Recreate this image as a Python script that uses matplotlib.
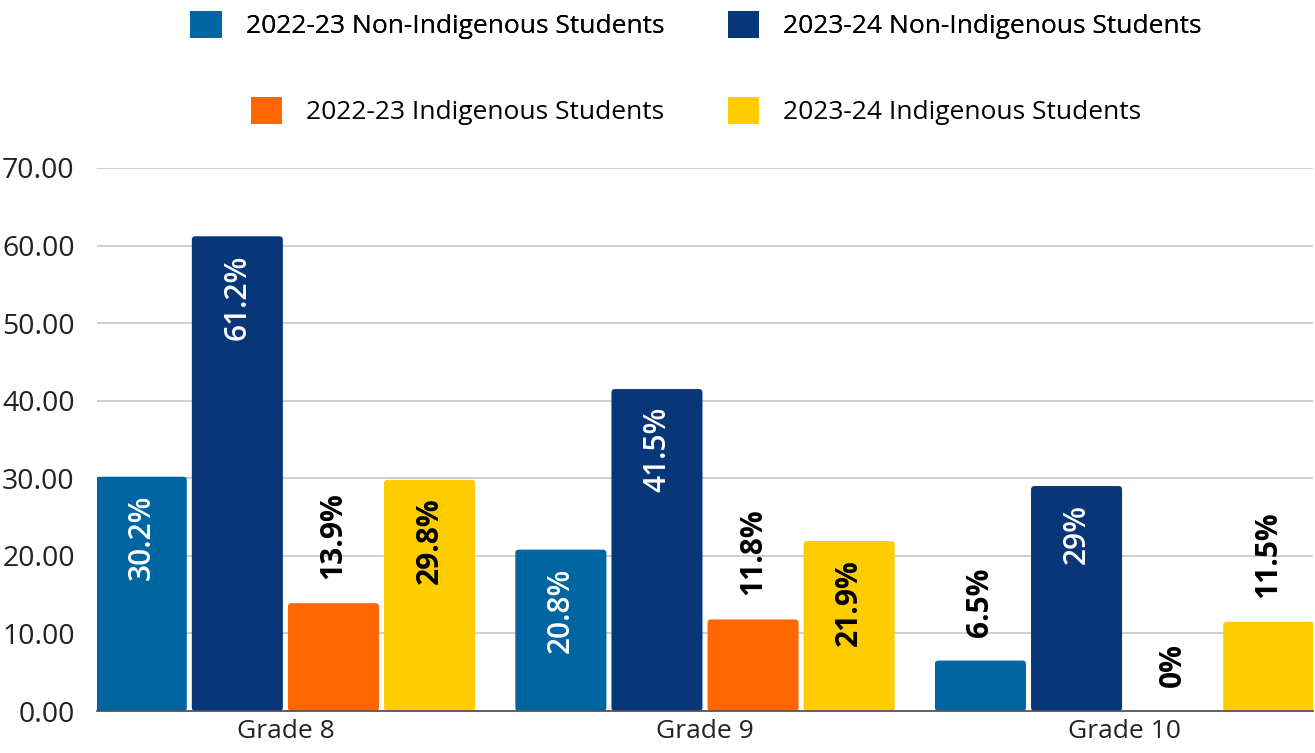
import matplotlib
matplotlib.use("Agg")
import matplotlib.pyplot as plt
from matplotlib.patches import FancyBboxPatch, Patch
import numpy as np

plt.rcParams['font.family'] = ['Open Sans', 'DejaVu Sans']

categories = ["Grade 8", "Grade 9", "Grade 10"]
series_names = ["2022-23 Non-Indigenous Students", "2023-24 Non-Indigenous Students",
                "2022-23 Indigenous Students", "2023-24 Indigenous Students"]
non_indig_2223 = [30.2, 20.8, 6.5]
non_indig_2324 = [61.2, 41.5, 29.0]
indig_2223 = [13.9, 11.8, 0.0]
indig_2324 = [29.8, 21.9, 11.5]
labels_nonindig_2223 = ["30.2%", "20.8%", "6.5%"]
labels_nonindig_2324 = ["61.2%", "41.5%", "29%"]
labels_indig_2223 = ["13.9%", "11.8%", "0%"]
labels_indig_2324 = ["29.8%", "21.9%", "11.5%"]
y_ticks = [0, 10, 20, 30, 40, 50, 60, 70]

colors = ["#0066A1", "#073778", "#FF6600", "#FFCC00"]
label_colors = ["white", "white", "black", "black"]
label_weights = ["semibold", "semibold", "bold", "bold"]

series = [non_indig_2223, non_indig_2324, indig_2223, indig_2324]
series_labels = [labels_nonindig_2223, labels_nonindig_2324, labels_indig_2223, labels_indig_2324]

W, H = 1315, 753
fig = plt.figure(figsize=(W / 100, H / 100), dpi=100)
ax = fig.add_axes([97 / W, (H - 711) / H, (1313 - 97) / W, (711 - 168) / H])

x = np.arange(len(categories))
step = 0.229
bw = 0.217
ax.set_xlim(-0.449, 2.449)
ax.set_ylim(0, 70)

px_x = (1313 - 97) / (2.449 + 0.449)   # pixels per x unit
px_y = (711 - 168) / 70.0               # pixels per y unit
r_px = 3.5

for i, (vals, labs) in enumerate(zip(series, series_labels)):
    xs = x + (i - 1.5) * step
    bars = ax.bar(xs, vals, width=bw, color=colors[i], label=series_names[i], zorder=3)
    for b, v, lab in zip(bars, vals, labs):
        b.set_visible(False)
        if v > 0:
            rs = r_px / px_x
            fp = FancyBboxPatch((b.get_x(), 0), b.get_width(), v,
                                boxstyle=f"round,pad=0,rounding_size={rs}",
                                mutation_aspect=px_x / px_y,
                                facecolor=colors[i], edgecolor='none', zorder=3)
            ax.add_patch(fp)
        cx = b.get_x() + b.get_width() / 2
        if v >= 20:
            ax.annotate(lab, (cx, v), xytext=(0, -18), textcoords='offset pixels',
                        rotation=90, ha='center', va='top', fontsize=21.5,
                        color=label_colors[i], fontweight=label_weights[i], zorder=4)
        else:
            ax.annotate(lab, (cx, v), xytext=(0, 24), textcoords='offset pixels',
                        rotation=90, ha='center', va='bottom', fontsize=21.5,
                        color='black', fontweight='bold', zorder=4)

ax.set_yticks(y_ticks)
ax.set_yticklabels([f"{t:.2f}" for t in y_ticks])
ax.set_xticks(x)
ax.set_xticklabels(categories)
ax.tick_params(axis='both', length=0, colors='#222222')
ax.tick_params(axis='y', pad=16, labelsize=20.5)
ax.tick_params(axis='x', pad=6, labelsize=19)
ax.grid(axis='y', color='#cccccc', linewidth=1.3, zorder=0)
for s in ['top', 'right', 'left']:
    ax.spines[s].set_visible(False)
ax.spines['bottom'].set_color('#555555')
ax.spines['bottom'].set_linewidth(1.3)
ax.spines['bottom'].set_zorder(5)

handles = [Patch(facecolor=c, edgecolor='none') for c in colors]
leg1 = fig.legend([handles[0], handles[1]], [series_names[0], series_names[1]],
                  loc='center', bbox_to_anchor=(696 / W, 1 - 25 / H), ncol=2,
                  frameon=False, fontsize=19, handlelength=1.2, handleheight=1.2,
                  handletextpad=0.9, columnspacing=2.4)
leg2 = fig.legend([handles[2], handles[3]], [series_names[2], series_names[3]],
                  loc='center', bbox_to_anchor=(696 / W, 1 - 111 / H), ncol=2,
                  frameon=False, fontsize=19, handlelength=1.2, handleheight=1.2,
                  handletextpad=0.9, columnspacing=2.4)
fig.add_artist(leg1)

fig.savefig("out.png", dpi=100)
